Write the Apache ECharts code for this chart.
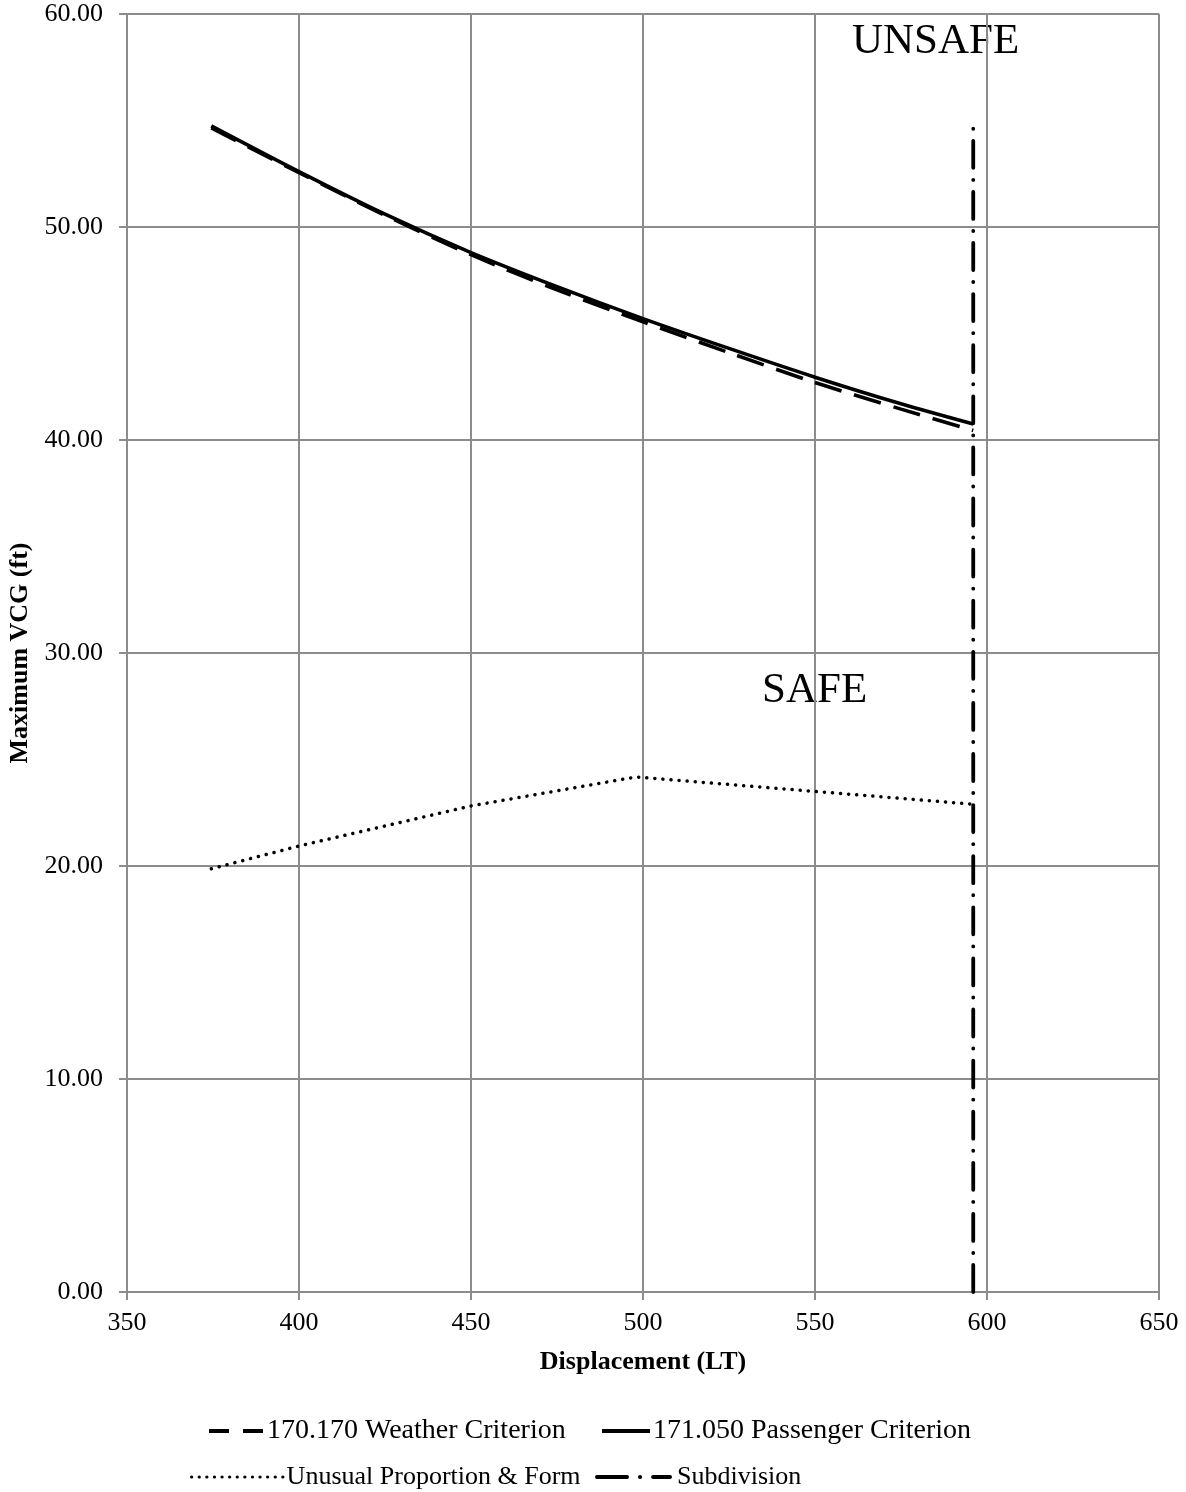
<!DOCTYPE html>
<html>
<head>
<meta charset="utf-8">
<script src="https://cdn.jsdelivr.net/npm/echarts@6/dist/echarts.min.js"></script>
<style>html,body{margin:0;padding:0;background:#fff}#c{width:1186px;height:1492px}</style>
</head>
<body>
<div id="c"></div>
<script>
const weatherX = [374.5, 400, 425, 450, 475, 500, 525, 550, 575, 596];
const weatherY = [54.65, 52.55, 50.55, 48.7, 47.05, 45.55, 44.1, 42.7, 41.45, 40.45];
const passengerX = [374.5, 400, 425, 450, 475, 500, 525, 550, 575, 596];
const passengerY = [54.75, 52.6, 50.6, 48.8, 47.2, 45.7, 44.3, 42.95, 41.7, 40.75];
const unusualX = [374.5, 400, 450, 498, 596];
const unusualY = [19.87, 20.94, 22.82, 24.18, 22.9];
const subdivisionX = [596, 596];
const subdivisionY = [0, 54.8];
const xTicks = [350, 400, 450, 500, 550, 600, 650];
const yTicks = [0, 10, 20, 30, 40, 50, 60];
const names = ['170.170 Weather Criterion', '171.050 Passenger Criterion', 'Unusual Proportion & Form', 'Subdivision'];

const pair = (xs, ys) => xs.map((x, i) => [x, ys[i]]);
const font = '"Liberation Serif", "Times New Roman", serif';
const gridColor = '#8c8c8c';

const dashes = {
  weather: [28, 13],
  passenger: 'solid',
  unusual: [0.1, 8],
  subdivision: [27, 12, 0.1, 12]
};
const legendDashes = {
  weather: [20, 14],
  passenger: 'solid',
  unusual: [0.1, 7.5],
  subdivision: [30, 13, 0.1, 13]
};

function legendItem(name, left, top, width, key, lw, fs, pad) {
  return {
    data: [{ name: name, lineStyle: { type: legendDashes[key], width: lw, color: '#000', cap: key === 'unusual' || key === 'subdivision' ? 'round' : 'butt' } }],
    left: left, top: top, itemWidth: width, itemHeight: 14, itemGap: 0,
    itemStyle: { opacity: 0 },
    textStyle: { fontFamily: font, fontSize: fs, color: '#000', padding: [0, 0, 0, pad] }
  };
}

const chart = echarts.init(document.getElementById('c'));
chart.setOption({
  animation: false,
  color: ['#000', '#000', '#000', '#000'],
  textStyle: { fontFamily: font, color: '#000' },
  grid: { left: 127, right: 27, top: 14, bottom: 200, containLabel: false, outerBoundsMode: 'none' },
  xAxis: {
    type: 'value', min: xTicks[0], max: xTicks[xTicks.length - 1], interval: 50,
    name: 'Displacement (LT)', nameLocation: 'middle', nameGap: 57,
    nameTextStyle: { fontFamily: font, fontWeight: 'bold', fontSize: 26, color: '#000' },
    axisLine: { show: true, lineStyle: { color: gridColor, width: 2 } },
    axisTick: { show: true, length: 8, lineStyle: { color: gridColor, width: 2 } },
    axisLabel: { fontFamily: font, fontSize: 26, color: '#000', margin: 18 },
    splitLine: { show: true, lineStyle: { color: gridColor, width: 2 } }
  },
  yAxis: {
    type: 'value', min: yTicks[0], max: yTicks[yTicks.length - 1], interval: 10,
    name: 'Maximum VCG (ft)', nameLocation: 'middle', nameGap: 93, nameRotate: 90,
    nameTextStyle: { fontFamily: font, fontWeight: 'bold', fontSize: 26, color: '#000' },
    axisLine: { show: true, lineStyle: { color: gridColor, width: 2 } },
    axisTick: { show: true, length: 8, lineStyle: { color: gridColor, width: 2 } },
    axisLabel: { fontFamily: font, fontSize: 26, color: '#000', margin: 24, formatter: v => v.toFixed(2) },
    splitLine: { show: true, lineStyle: { color: gridColor, width: 2 } }
  },
  legend: [
    legendItem(names[0], 202, 1412, 55, 'weather', 4, 28, -2),
    legendItem(names[1], 595, 1412, 48, 'passenger', 4, 28, -2),
    legendItem(names[2], 185, 1459, 92, 'unusual', 3.2, 26, -2),
    legendItem(names[3], 590, 1459, 73, 'subdivision', 4, 26, 2)
  ],
  series: [
    {
      name: names[0], type: 'line', symbol: 'none', data: pair(weatherX, weatherY), smooth: 0.3,
      lineStyle: { color: '#000', width: 3.6, type: dashes.weather }, z: 3
    },
    {
      name: names[1], type: 'line', symbol: 'none', data: pair(passengerX, passengerY), smooth: 0.3,
      lineStyle: { color: '#000', width: 3.6, type: dashes.passenger }, z: 3
    },
    {
      name: names[2], type: 'line', symbol: 'none', data: pair(unusualX, unusualY),
      lineStyle: { color: '#000', width: 3.5, type: dashes.unusual, cap: 'round' }, z: 3
    },
    {
      name: names[3], type: 'line', symbol: 'none', data: pair(subdivisionX, subdivisionY),
      lineStyle: { color: '#000', width: 3.8, type: dashes.subdivision, cap: 'round' }, z: 4
    }
  ],
  graphic: [
    { type: 'text', left: 852, top: 20, style: { text: 'UNSAFE', font: '43px ' + font, fill: '#000' } },
    { type: 'text', left: 762, top: 669, style: { text: 'SAFE', font: '43px ' + font, fill: '#000' } }
  ]
});
</script>
</body>
</html>
